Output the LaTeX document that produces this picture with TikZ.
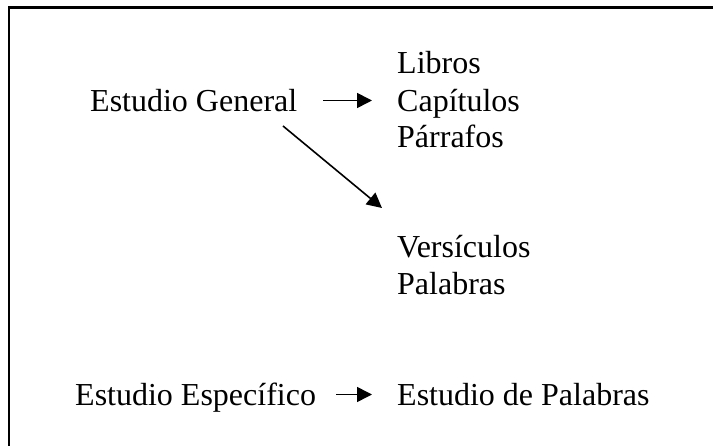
\documentclass[tikz,border=0pt]{standalone}
\usepackage{fontspec}
\setmainfont{Liberation Serif}
\usetikzlibrary{arrows.meta,calc}
\begin{document}
\begin{tikzpicture}[x=1pt,y=-1pt,
  txt/.style={inner sep=0pt, anchor=base west, text height=23pt, text depth=0pt,
    font=\fontsize{32}{37}\selectfont},
  arr/.style={line width=1.6pt, -{Triangle[length=15pt,width=15pt]}},
  frameline/.style={line width=2.3pt, line join=miter}]
\useasboundingbox (0,0) rectangle (713,446);
\draw[frameline] (8.7,460) -- (8.7,7.5) -- (720,7.5);
\node[txt] (gen) at (90,112) {Estudio General};
\node[txt] (lib) at (397,74) {Libros};
\node[txt] (cap) at (397,112) {Capítulos};
\node[txt] (par) at (397,148) {Párrafos};
\node[txt] (vers) at (397,258) {Versículos};
\node[txt] (pal) at (397,295) {Palabras};
\node[txt] (esp) at (75,406) {Estudio Específico};
\node[txt] (estp) at (397,406) {Estudio de Palabras};
\draw[arr, shorten <=26pt, shorten >=25pt] (gen) -- (cap);
\draw[arr] ($(gen.base west)+(193,14)$) -- ($(vers.base west)+(-15,-50)$);
\draw[arr, shorten <=20pt, shorten >=25pt] (esp) -- (estp);
\end{tikzpicture}
\end{document}
